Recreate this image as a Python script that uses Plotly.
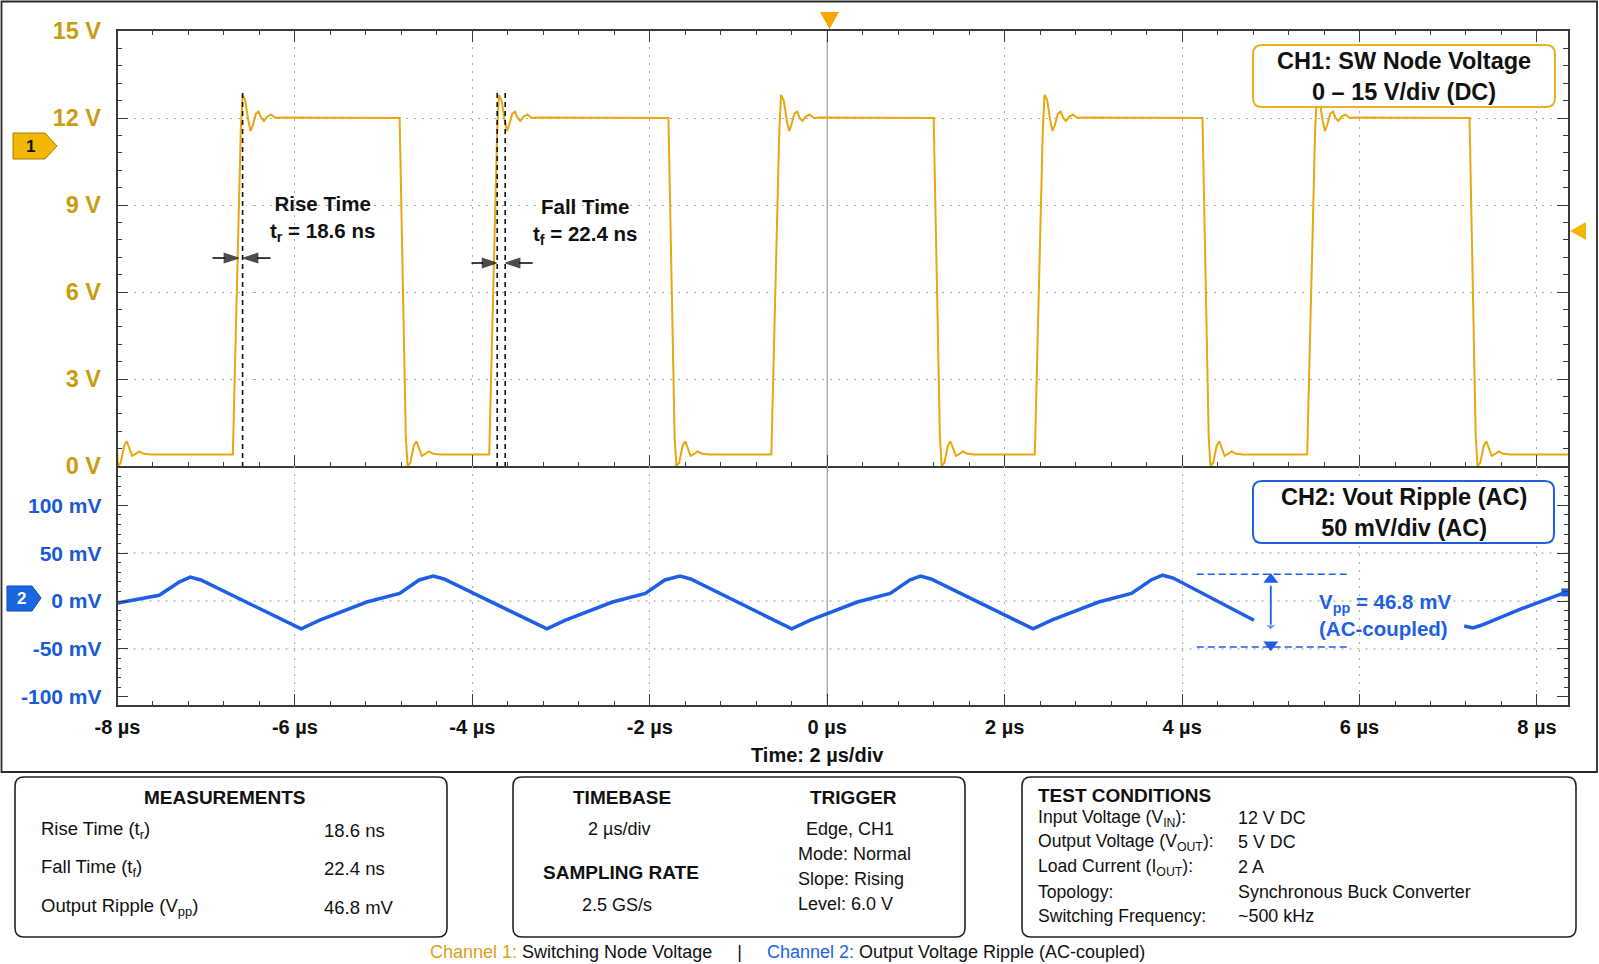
import plotly.graph_objects as go

W, H = 1599, 964
FONT = "Liberation Sans, Arial, Helvetica, sans-serif"

# ---------------- data ----------------
time_range = [-8.0, 8.35]  # µs
time_ticks = [-8, -6, -4, -2, 0, 2, 4, 6, 8]
time_tick_text = ["-8 µs", "-6 µs", "-4 µs", "-2 µs", "0 µs", "2 µs", "4 µs", "6 µs", "8 µs"]

# CH1 : switching node voltage
ch1_range = [0, 15]
ch1_ticks = [0, 3, 6, 9, 12, 15]
ch1_tick_text = ["0 V", "3 V", "6 V", "9 V", "12 V", "15 V"]
ch1_fall_starts = [-8.085, -4.82, -1.79, 1.20, 4.23, 7.24]   # µs, top corner of each falling edge
ch1_rise_starts = [-6.70, -3.81, -0.63, 2.34, 5.41]          # µs, bottom corner of each rising edge
rise_shape_dt = [0.0, 0.09, 0.11, 0.14, 0.175, 0.20, 0.225, 0.26, 0.29, 0.32, 0.35, 0.39, 0.43, 0.48, 0.55]
rise_shape_v = [0.4, 11.6, 12.8, 12.6, 11.9, 11.55, 11.75, 12.15, 12.22, 12.0, 11.9, 12.05, 12.12, 12.0, 12.02]
fall_shape_dt = [0.0, 0.07, 0.09, 0.12, 0.16, 0.19, 0.22, 0.25, 0.29, 0.33, 0.38, 0.46]
fall_shape_v = [12.0, 1.0, 0.0, 0.1, 0.7, 0.85, 0.6, 0.35, 0.42, 0.5, 0.42, 0.4]
ch1_low_level = 0.4

# CH2 : output ripple (mV)
ch2_range = [-108, 141]
ch2_ticks = [-100, -50, 0, 50, 100]
ch2_tick_text = ["-100 mV", "-50 mV", "0 mV", "50 mV", "100 mV"]
ch2_grid = [-50, 0, 50]
ripple_t_a = [-8.00, -7.53, -7.30, -7.18, -7.06, -5.93, -5.72, -5.19, -4.82, -4.60, -4.44, -4.32,
              -3.16, -2.95, -2.42, -2.05, -1.83, -1.66, -1.54, -0.40, -0.19, 0.34, 0.71, 0.93,
              1.05, 1.17, 2.32, 2.53, 3.06, 3.43, 3.65, 3.78, 3.90, 4.81]
ripple_mv_a = [-2, 6, 20, 25, 22, -29, -20, -1, 8, 22, 26, 23,
               -29, -20, -1, 8, 22, 26, 23, -29, -20, -1, 8, 22,
               26, 23, -29, -20, -1, 8, 22, 27, 24, -20]
ripple_t_b = [7.18, 7.28, 7.38, 7.80, 8.32]
ripple_mv_b = [-26, -28, -25, -9, 9]

# measurement markers
rise_marker_t = [-6.59]
fall_marker_t = [-3.72, -3.63]
marker_top_v = 12.86
# (tail, tip, level) of the small horizontal measurement arrows
meas_arrows = [(-6.93, -6.636, 7.17), (-6.275, -6.58, 7.17), (-4.01, -3.727, 7.0), (-3.32, -3.626, 7.0)]
vpp_hi, vpp_lo = 28, -48
vpp_line_t = [4.165, 5.856]
vpp_arrow_t = 5.0

# ---------------- styling ----------------
CH1_COLOR = "#E8A70F"
CH1_LABEL = "#C89D12"
CH2_COLOR = "#1F5FE6"
CH2_LABEL = "#1A5AD8"
AX = "#3a3a3a"
GRID = "#ababab"

PLOT_L, PLOT_R = 117.5, 1568
CH1_TOP, SPLIT, CH2_BOT = 31, 466, 704.5


def X(px):
    return px / W


def Y(py):
    return 1 - py / H


def rounded_rect_path(x0, y0, x1, y1, r):
    return " ".join([
        f"M{X(x0 + r)},{Y(y0)}", f"L{X(x1 - r)},{Y(y0)}",
        f"Q{X(x1)},{Y(y0)} {X(x1)},{Y(y0 + r)}", f"L{X(x1)},{Y(y1 - r)}",
        f"Q{X(x1)},{Y(y1)} {X(x1 - r)},{Y(y1)}", f"L{X(x0 + r)},{Y(y1)}",
        f"Q{X(x0)},{Y(y1)} {X(x0)},{Y(y1 - r)}", f"L{X(x0)},{Y(y0 + r)}",
        f"Q{X(x0)},{Y(y0)} {X(x0 + r)},{Y(y0)}", "Z"])


def poly_path(points):
    return "M" + " L".join(f"{X(a)},{Y(b)}" for a, b in points) + " Z"


# ---------------- build CH1 trace from edges ----------------
events = sorted([(t, "fall") for t in ch1_fall_starts] + [(t, "rise") for t in ch1_rise_starts])
ch1_t, ch1_v = [], []
for t0, kind in events:
    dts, vs = (rise_shape_dt, rise_shape_v) if kind == "rise" else (fall_shape_dt, fall_shape_v)
    for dt, vv in zip(dts, vs):
        ch1_t.append(round(t0 + dt, 4))
        ch1_v.append(vv)
ch1_t.append(time_range[1])
ch1_v.append(ch1_low_level)

fig = go.Figure()
fig.add_trace(go.Scatter(x=ch1_t, y=ch1_v, mode="lines", line=dict(color=CH1_COLOR, width=2),
                         xaxis="x", yaxis="y", hoverinfo="skip"))
# measurement dashed lines
for tm in rise_marker_t + fall_marker_t:
    fig.add_trace(go.Scatter(x=[tm, tm], y=[marker_top_v, 0], mode="lines",
                             line=dict(color="#111", width=1.6, dash="5px,4px"),
                             xaxis="x", yaxis="y", hoverinfo="skip"))
# measurement arrows
for tail, tip, lv in meas_arrows:
    fig.add_trace(go.Scatter(x=[tail, tip], y=[lv, lv], mode="lines+markers",
                             line=dict(color="#000", width=1.5),
                             marker=dict(symbol="arrow", size=[0, 15], angleref="previous", color="#000",
                                         line=dict(width=1.2, color="#000")),
                             xaxis="x", yaxis="y", hoverinfo="skip"))

fig.add_trace(go.Scatter(x=ripple_t_a, y=ripple_mv_a, mode="lines", line=dict(color=CH2_COLOR, width=3.5),
                         xaxis="x2", yaxis="y2", hoverinfo="skip"))
fig.add_trace(go.Scatter(x=ripple_t_b, y=ripple_mv_b, mode="lines", line=dict(color=CH2_COLOR, width=3.5),
                         xaxis="x2", yaxis="y2", hoverinfo="skip"))
fig.add_trace(go.Scatter(x=[ripple_t_b[-1]], y=[ripple_mv_b[-1]], mode="markers",
                         marker=dict(symbol="square", size=8, color=CH2_COLOR),
                         xaxis="x2", yaxis="y2", cliponaxis=False, hoverinfo="skip"))
# Vpp dashed limits
for lv in (vpp_hi, vpp_lo):
    fig.add_trace(go.Scatter(x=vpp_line_t, y=[lv, lv], mode="lines",
                             line=dict(color=CH2_COLOR, width=1.5, dash="7px,4px"),
                             xaxis="x2", yaxis="y2", hoverinfo="skip"))
# Vpp double arrow
fig.add_trace(go.Scatter(x=[vpp_arrow_t, vpp_arrow_t], y=[vpp_hi - 5.5, vpp_lo + 2.5], mode="markers",
                         marker=dict(symbol=["triangle-up", "triangle-down"], size=13, color=CH2_COLOR),
                         xaxis="x2", yaxis="y2", hoverinfo="skip"))
fig.add_trace(go.Scatter(x=[vpp_arrow_t, vpp_arrow_t], y=[vpp_hi - 12, vpp_lo + 18], mode="lines+markers",
                         line=dict(color=CH2_COLOR, width=1.8),
                         marker=dict(symbol="arrow-wide", size=[0, 11], angleref="previous", color=CH2_COLOR),
                         xaxis="x2", yaxis="y2", hoverinfo="skip"))

# ---------------- axes ----------------
common = dict(showline=True, linecolor=AX, linewidth=1.5, ticks="inside",
              tickcolor=AX, tickwidth=1.2, zeroline=False, automargin=False)
xdom = [X(PLOT_L), X(PLOT_R)]
xgrid = dict(showgrid=True, gridcolor=GRID, gridwidth=1.2, griddash="2px,6px")
xminor = dict(tickmode="linear", tick0=-8, dtick=0.4, ticklen=4, ticks="inside", tickcolor=AX,
              showgrid=False)

fig.update_layout(
    width=W, height=H, autosize=False,
    margin=dict(l=0, r=0, t=0, b=0, pad=0, autoexpand=False),
    paper_bgcolor="white", plot_bgcolor="white",
    showlegend=False,
    font=dict(family=FONT, color="#111"),
    xaxis=dict(domain=xdom, range=time_range, anchor="y", tickmode="array", tickvals=time_ticks,
               showticklabels=False, ticklen=11, minor=xminor, mirror="ticks", **xgrid, **common),
    xaxis2=dict(domain=xdom, range=time_range, anchor="y2", matches="x", tickmode="array",
                tickvals=time_ticks, ticktext=[f"<b>{s}</b>" for s in time_tick_text],
                tickfont=dict(family=FONT, size=20, color="#111"), ticklabelstandoff=4,
                ticklen=11, minor=xminor, mirror=False, **xgrid, **common),
    yaxis=dict(domain=[Y(SPLIT), Y(CH1_TOP)], range=ch1_range, anchor="x", tickmode="array",
               tickvals=ch1_ticks, ticktext=[f"<b>{s}</b>" for s in ch1_tick_text],
               tickfont=dict(family=FONT, size=23.5, color=CH1_LABEL), ticklabelstandoff=10,
               ticklen=11, showgrid=True, gridcolor=GRID, gridwidth=1.2, griddash="2px,6px",
               mirror="ticks",
               minor=dict(tickmode="linear", tick0=0, dtick=0.6, ticklen=5, ticks="inside",
                          tickcolor=AX, showgrid=False),
               **common),
    yaxis2=dict(domain=[Y(CH2_BOT), Y(SPLIT)], range=ch2_range, anchor="x2", tickmode="array",
                tickvals=ch2_ticks, ticktext=[f"<b>{s}</b>" for s in ch2_tick_text],
                tickfont=dict(family=FONT, size=21, color=CH2_LABEL), ticklabelstandoff=10,
                ticklen=11, showgrid=False, mirror="ticks",
                minor=dict(tickmode="linear", tick0=0, dtick=10, ticklen=4, ticks="inside",
                           tickcolor=AX, showgrid=False),
                **common),
)

# ---------------- shapes ----------------
shapes = []
for g in ch2_grid:
    shapes.append(dict(type="line", xref="x2 domain", x0=0, x1=1, yref="y2", y0=g, y1=g,
                       line=dict(color=GRID, width=1.2, dash="2px,6px"), layer="below"))
# centre time line (solid)
shapes.append(dict(type="line", xref="x", x0=0, x1=0, yref="paper", y0=Y(CH2_BOT), y1=Y(CH1_TOP),
                   line=dict(color="#9a9a9a", width=1.2), layer="below"))
# outer frame
shapes.append(dict(type="rect", xref="paper", yref="paper", x0=X(1.5), x1=X(1597), y0=Y(772), y1=Y(1.5),
                   line=dict(color="#2a2a2a", width=1.8), fillcolor="rgba(0,0,0,0)"))
# legend boxes
shapes.append(dict(type="path", xref="paper", yref="paper", path=rounded_rect_path(1253, 45, 1555, 107, 9),
                   line=dict(color="#E9B022", width=2), fillcolor="white"))
shapes.append(dict(type="path", xref="paper", yref="paper", path=rounded_rect_path(1253, 481, 1554, 543, 9),
                   line=dict(color=CH2_COLOR, width=2), fillcolor="white"))
# bottom info boxes
for bx in [(15, 777, 447, 937), (513, 777, 965, 937), (1022, 777, 1576, 937)]:
    shapes.append(dict(type="path", xref="paper", yref="paper", path=rounded_rect_path(*bx, 9),
                       line=dict(color="#222", width=1.6), fillcolor="white"))
# channel badges and trigger markers
shapes.append(dict(type="path", xref="paper", yref="paper",
                   path=poly_path([(13, 133), (45, 133), (57, 146), (45, 159), (13, 159)]),
                   line=dict(color="#A87E00", width=1), fillcolor="#F2B705"))
shapes.append(dict(type="path", xref="paper", yref="paper",
                   path=poly_path([(7, 586), (32, 586), (41, 598), (32, 611), (7, 611)]),
                   line=dict(color="#1246B0", width=1), fillcolor="#1A66E0"))
shapes.append(dict(type="path", xref="paper", yref="paper",
                   path=poly_path([(1586, 222), (1586, 240), (1570, 231)]),
                   line=dict(width=0), fillcolor="#F2B705"))
shapes.append(dict(type="path", xref="paper", yref="paper",
                   path=poly_path([(820, 12), (839, 12), (829.5, 29)]),
                   line=dict(width=0), fillcolor="#F7A600"))

# ---------------- annotations ----------------
ann = []


def txt(x, y, text, size, color="#111", xanchor="center", yanchor="middle", align="center", **kw):
    d = dict(xref="paper", yref="paper", x=X(x), y=Y(y), text=text, showarrow=False,
             font=dict(family=FONT, size=size, color=color), xanchor=xanchor, yanchor=yanchor, align=align)
    d.update(kw)
    ann.append(d)


# rise / fall labels (data coords)
ann.append(dict(xref="x", yref="y", x=-5.69, y=8.53, showarrow=False, align="center",
                text="<b>Rise Time</b><br><b>t<sub>r</sub> = 18.6 ns</b>",
                font=dict(family=FONT, size=20.5, color="#111")))
ann.append(dict(xref="x", yref="y", x=-2.72, y=8.43, showarrow=False, align="center",
                text="<b>Fall Time</b><br><b>t<sub>f</sub> = 22.4 ns</b>",
                font=dict(family=FONT, size=20.5, color="#111")))
ann.append(dict(xref="x2", yref="y2", x=5.517, y=-15, xanchor="left", align="left", showarrow=False,
                text="<b>V<sub>pp</sub> = 46.8 mV</b><br><b>(AC-coupled)</b>",
                font=dict(family=FONT, size=20.5, color=CH2_COLOR)))

# legend box texts
txt(1404, 77, "<b>CH1: SW Node Voltage</b><br><b>0 – 15 V/div (DC)</b>", 23.5)
txt(1404, 512, "<b>CH2: Vout Ripple (AC)</b><br><b>50 mV/div (AC)</b>", 23.5)

# badges text
txt(30, 146, "<b>1</b>", 17, "#111")
txt(21, 598.5, "<b>2</b>", 17, "white")

# time/div
txt(818, 755, "<b>Time: 2 µs/div</b>", 20)

# measurements box
txt(225, 797, "<b>MEASUREMENTS</b>", 19)
for yy, lab, val in [(830, "Rise Time (t<sub>r</sub>)", "18.6 ns"),
                     (868, "Fall Time (t<sub>f</sub>)", "22.4 ns"),
                     (907, "Output Ripple (V<sub>pp</sub>)", "46.8 mV")]:
    txt(39, yy, lab, 18.5, xanchor="left", align="left")
    txt(322, yy, val, 18.5, xanchor="left", align="left")

# timebase / trigger box
txt(622, 797, "<b>TIMEBASE</b>", 19)
txt(619, 829, "2 µs/div", 18)
txt(621, 872, "<b>SAMPLING RATE</b>", 19)
txt(617, 905, "2.5 GS/s", 18)
txt(853, 797, "<b>TRIGGER</b>", 19)
txt(850, 829, "Edge, CH1", 18)
txt(796, 854, "Mode: Normal", 18, xanchor="left", align="left")
txt(796, 879, "Slope: Rising", 18, xanchor="left", align="left")
txt(796, 904, "Level: 6.0 V", 18, xanchor="left", align="left")

# test conditions box
txt(1036, 795, "<b>TEST CONDITIONS</b>", 19, xanchor="left", align="left")
for yy, lab, val in [(818, "Input Voltage (V<sub>IN</sub>):", "12 V DC"),
                     (842, "Output Voltage (V<sub>OUT</sub>):", "5 V DC"),
                     (867, "Load Current (I<sub>OUT</sub>):", "2 A"),
                     (892, "Topology:", "Synchronous Buck Converter"),
                     (916, "Switching Frequency:", "~500 kHz")]:
    txt(1036, yy, lab, 17.6, xanchor="left", align="left")
    txt(1236, yy, val, 17.9, xanchor="left", align="left")

# caption along the bottom edge
nb = "\u00a0"
txt(787, 963,
    f'<span style="color:#D9A21B">Channel 1:</span> Switching Node Voltage{nb*5}|{nb*5}'
    f'<span style="color:{CH2_COLOR}">Channel 2:</span> Output Voltage Ripple (AC-coupled)',
    18, yanchor="bottom", borderpad=0)

fig.update_layout(shapes=shapes, annotations=ann)
fig.write_html("out.html")
